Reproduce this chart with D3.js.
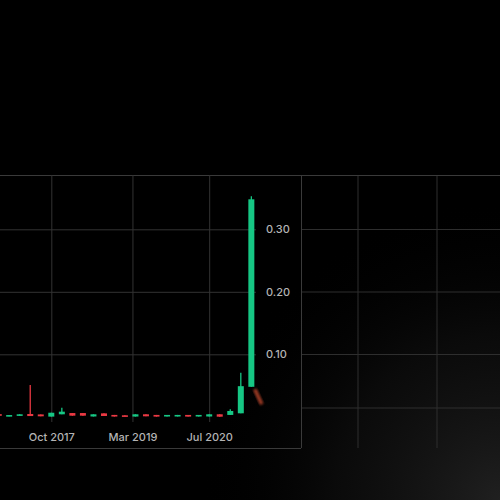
<!DOCTYPE html>
<html lang="en">
<head>
    <meta charset="UTF-8">
    <title>Price chart</title>
    <script src="https://d3js.org/d3.v7.min.js"></script>
    <style>
        html, body { margin: 0; padding: 0; background: #000; }
        .tick text { font: 500 11px Inter, Roboto, sans-serif; fill: #b4b4b4; }
    </style>
</head>
<body>
    <div id="chart"></div>

    <script>
        // candle times (one bar every ~2 months)
        const candleDates = [
            "2016-11-01", "2017-01-06", "2017-03-14", "2017-05-20", "2017-07-26",
            "2017-10-01", "2017-12-07", "2018-02-12", "2018-04-20", "2018-06-26",
            "2018-09-01", "2018-11-06", "2019-01-12", "2019-03-20", "2019-05-26",
            "2019-08-01", "2019-10-07", "2019-12-13", "2020-02-18", "2020-04-25",
            "2020-07-01", "2020-09-06", "2020-11-12", "2021-01-18", "2021-03-26",
            "2021-06-01"
        ];
        const opens  = [0.0042, 0.0008, 0.0015, 0.0045, 0.0038, 0.0003, 0.0040, 0.0060, 0.0060, 0.0005,
                        0.0055, 0.0030, 0.0024, 0.0004, 0.0040, 0.0030, 0.0005, 0.0005, 0.0030, 0.0005,
                        0.0005, 0.0040, 0.0030, 0.0056, 0.0480, 0.0480];
        const highs  = [0.0042, 0.0028, 0.0040, 0.0510, 0.0038, 0.0065, 0.0146, 0.0060, 0.0060, 0.0040,
                        0.0055, 0.0030, 0.0024, 0.0040, 0.0040, 0.0030, 0.0030, 0.0030, 0.0030, 0.0030,
                        0.0040, 0.0040, 0.0120, 0.0706, 0.3530, 0.0480];
        const lows   = [0.0022, 0.0008, 0.0015, 0.0012, 0.0008, 0.0003, 0.0040, 0.0018, 0.0018, 0.0005,
                        0.0013, 0.0004, 0.0004, 0.0004, 0.0008, 0.0003, 0.0005, 0.0005, 0.0003, 0.0005,
                        0.0005, 0.0002, 0.0030, 0.0056, 0.0480, 0.0215];
        const closes = [0.0022, 0.0028, 0.0040, 0.0012, 0.0008, 0.0065, 0.0082, 0.0018, 0.0018, 0.0040,
                        0.0013, 0.0004, 0.0004, 0.0040, 0.0008, 0.0003, 0.0030, 0.0030, 0.0003, 0.0030,
                        0.0040, 0.0002, 0.0093, 0.0490, 0.3480, 0.0215];

        const timeTicks = ["2017-10-01", "2019-03-01", "2020-07-01"];
        const priceTicks = [0.10, 0.20, 0.30];

        const parse = d3.timeParse("%Y-%m-%d");
        const candles = candleDates.map((d, i) => ({
            date: parse(d), open: opens[i], high: highs[i], low: lows[i], close: closes[i]
        }));

        const W = 500, H = 500;
        const plotTop = 175, plotBottom = 422, axisBottomLine = 448, plotRight = 256, borderX = 301;
        const up = "#16c784", down = "#ea3943";

        const svg = d3.select("#chart").append("svg")
            .attr("width", W)
            .attr("height", H)
            .style("display", "block");

        const defs = svg.append("defs");
        const glow = defs.append("radialGradient").attr("id", "glow")
            .attr("cx", 1).attr("cy", 1).attr("r", 0.6);
        glow.append("stop").attr("offset", 0).attr("stop-color", "#3a3a3a").attr("stop-opacity", 0.55);
        glow.append("stop").attr("offset", 0.55).attr("stop-color", "#222").attr("stop-opacity", 0.3);
        glow.append("stop").attr("offset", 1).attr("stop-color", "#000").attr("stop-opacity", 0);
        defs.append("filter").attr("id", "blur")
            .append("feGaussianBlur").attr("stdDeviation", 1.1);

        svg.append("rect").attr("width", W).attr("height", H).attr("fill", "#000");
        svg.append("rect").attr("width", W).attr("height", H).attr("fill", "url(#glow)");

        // scales
        const x = d3.scaleTime()
            .domain([parse(timeTicks[0]), parse(timeTicks[2])])
            .range([51.3, 209.2]);

        const y = d3.scaleLinear()
            .domain([0, 0.3])
            .range([416.8, 229.3]);

        // background panel grid on the right
        const bg = svg.append("g").attr("stroke", "#2e2e2e").attr("stroke-width", 1);
        [229.5, 292, 354.5, 408].forEach(v => {
            bg.append("line").attr("x1", borderX).attr("x2", W).attr("y1", v).attr("y2", v);
        });
        [358, 437].forEach(v => {
            bg.append("line").attr("x1", v).attr("x2", v).attr("y1", plotTop).attr("y2", axisBottomLine);
        });

        // frame
        const frame = svg.append("g").attr("stroke", "#3a3a3a").attr("stroke-width", 1);
        frame.append("line").attr("x1", 0).attr("x2", W).attr("y1", plotTop + 0.5).attr("y2", plotTop + 0.5);
        frame.append("line").attr("x1", 0).attr("x2", borderX).attr("y1", axisBottomLine + 0.5).attr("y2", axisBottomLine + 0.5);
        frame.append("line").attr("x1", borderX + 0.5).attr("x2", borderX + 0.5).attr("y1", plotTop).attr("y2", axisBottomLine);

        // grid lines
        svg.append("g")
            .attr("transform", `translate(0,${plotBottom})`)
            .call(d3.axisBottom(x).tickValues(timeTicks.map(parse)).tickSize(-(plotBottom - plotTop)).tickFormat(""))
            .call(g => g.select(".domain").remove())
            .call(g => g.selectAll("line").attr("stroke", "#333"));

        svg.append("g")
            .call(d3.axisLeft(y).tickValues(priceTicks).tickSize(-plotRight).tickFormat(""))
            .call(g => g.select(".domain").remove())
            .call(g => g.selectAll("line").attr("stroke", "#333"));

        // candles
        const last = candles.length - 1;
        const cg = svg.append("g");
        const c = cg.selectAll("g.candle")
            .data(candles)
            .enter().append("g")
            .attr("class", "candle")
            .attr("filter", (d, i) => i === last ? "url(#blur)" : null)
            .attr("opacity", (d, i) => i === last ? 0.75 : 1)
            // last bar is smeared in the source image
            .attr("transform", (d, i) => {
                if (i !== last) return null;
                const cx = x(d.date), cy = y((d.open + d.close) / 2);
                return `rotate(-25,${cx},${cy}) translate(-4,0)`;
            });

        c.append("line")
            .attr("x1", d => x(d.date))
            .attr("x2", d => x(d.date))
            .attr("y1", d => y(d.high))
            .attr("y2", d => y(d.low))
            .attr("stroke", (d, i) => i === last ? "#c4482e" : (d.close >= d.open ? up : down))
            .attr("stroke-width", 1.3);

        c.append("rect")
            .attr("x", (d, i) => x(d.date) - (i === last ? 2 : 3))
            .attr("width", (d, i) => i === last ? 4 : 6)
            .attr("y", d => y(Math.max(d.open, d.close)))
            .attr("height", d => Math.max(1.6, Math.abs(y(d.open) - y(d.close))))
            .attr("fill", (d, i) => i === last ? "#c4482e" : (d.close >= d.open ? up : down));

        // axes labels
        svg.append("g")
            .attr("transform", `translate(0,433)`)
            .call(d3.axisBottom(x).tickValues(timeTicks.map(parse)).tickFormat(d3.timeFormat("%b %Y")).tickSize(0).tickPadding(0))
            .call(g => g.select(".domain").remove());

        svg.append("g")
            .attr("transform", `translate(266,0)`)
            .call(d3.axisRight(y).tickValues(priceTicks).tickFormat(d3.format(".2f")).tickSize(0).tickPadding(0))
            .call(g => g.select(".domain").remove());
    </script>
</body>
</html>
